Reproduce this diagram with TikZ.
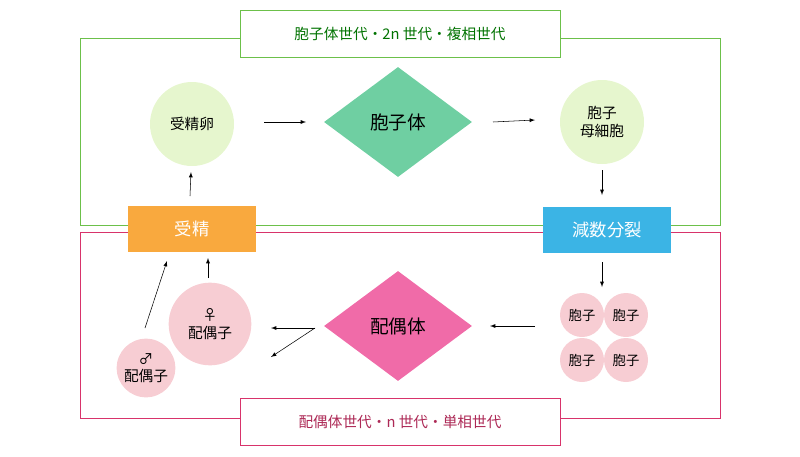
\documentclass[tikz,border=0pt]{standalone}
\usepackage{fontspec}
\setmainfont{Noto Sans CJK JP}
\usetikzlibrary{shapes.geometric}
\definecolor{gfr}{HTML}{6CC04A}
\definecolor{pfr}{HTML}{D8336B}
\definecolor{lgreen}{HTML}{E6F6CE}
\definecolor{dgreen}{HTML}{6FCFA2}
\definecolor{lpink}{HTML}{F7CDD3}
\definecolor{dpink}{HTML}{F06BA8}
\definecolor{sky}{HTML}{3BB4E5}
\definecolor{orng}{HTML}{F9A93E}
\begin{document}
\begin{tikzpicture}[x=0.75pt,y=-0.75pt,
  circ/.style={circle,inner sep=0pt,font=\fontsize{11}{13}\selectfont,align=center},
  dia/.style={diamond,inner sep=0pt,minimum width=111pt,minimum height=82.5pt,font=\fontsize{14}{16}\selectfont},
  box/.style={inner sep=0pt,minimum width=96pt,minimum height=35pt,text=white,font=\fontsize{13}{15}\selectfont},
  lab/.style={fill=white,inner sep=0pt,minimum width=240pt,minimum height=35pt,font=\fontsize{11}{13}\selectfont},
  arr/.style={-latex,thin}]
\useasboundingbox (0,0) rectangle (800,457);
\draw[gfr] (80,38) rectangle (720,225);
\draw[pfr] (80,232) rectangle (720,418);
\node[lab,draw=gfr,text=green!45!black] (lg) at (400,34) {胞子体世代・2n 世代・複相世代};
\node[lab,draw=pfr,text=pfr!80!black] (lp) at (400,422) {配偶体世代・n 世代・単相世代};
\node[circ,fill=lgreen,minimum size=63pt] (zy) at (192,124) {受精卵};
\node[dia,fill=dgreen] (sp) at (398,122) {胞子体};
\node[circ,fill=lgreen,minimum size=63pt] (smc) at (602,122) {胞子\\母細胞};
\node[box,fill=sky] (mei) at (607,230) {減数分裂};
\node[box,fill=orng] (fer) at (192,229) {受精};
\foreach \n/\x/\y in {s1/582/315,s2/626/315,s3/582/360,s4/626/360}
  \node[circ,fill=lpink,minimum size=33pt,font=\fontsize{10}{12}\selectfont] (\n) at (\x,\y) {胞子};
\node[dia,fill=dpink] (ga) at (398,326) {配偶体};
\node[circ,fill=lpink,minimum size=62pt] (fe) at (210,324) {♀\\配偶子};
\node[circ,fill=lpink,minimum size=44pt] (ma) at (146,368) {♂\\配偶子};
\coordinate (a1) at (264,122); \coordinate (a2) at (306,122);
\coordinate (b1) at (493,122); \coordinate (b2) at (535,120);
\coordinate (c1) at (602,170); \coordinate (c2) at (602,195);
\coordinate (d1) at (602,262); \coordinate (d2) at (602,287);
\coordinate (e1) at (535,326); \coordinate (e2) at (490,326);
\coordinate (f1) at (190,196); \coordinate (f2) at (191,172);
\coordinate (g1) at (208,278); \coordinate (g2) at (208,258);
\coordinate (h1) at (145,328); \coordinate (h2) at (167,261);
\coordinate (v) at (315,328); \coordinate (v1) at (271,328); \coordinate (v2) at (271,357);
\draw[arr] (a1) -- (a2);
\draw[arr] (b1) -- (b2);
\draw[arr] (c1) -- (c2);
\draw[arr] (d1) -- (d2);
\draw[arr] (e1) -- (e2);
\draw[arr] (f1) -- (f2);
\draw[arr] (g1) -- (g2);
\draw[arr] (h1) -- (h2);
\draw[arr] (v) -- (v1);
\draw[arr] (v) -- (v2);
\end{tikzpicture}
\end{document}
